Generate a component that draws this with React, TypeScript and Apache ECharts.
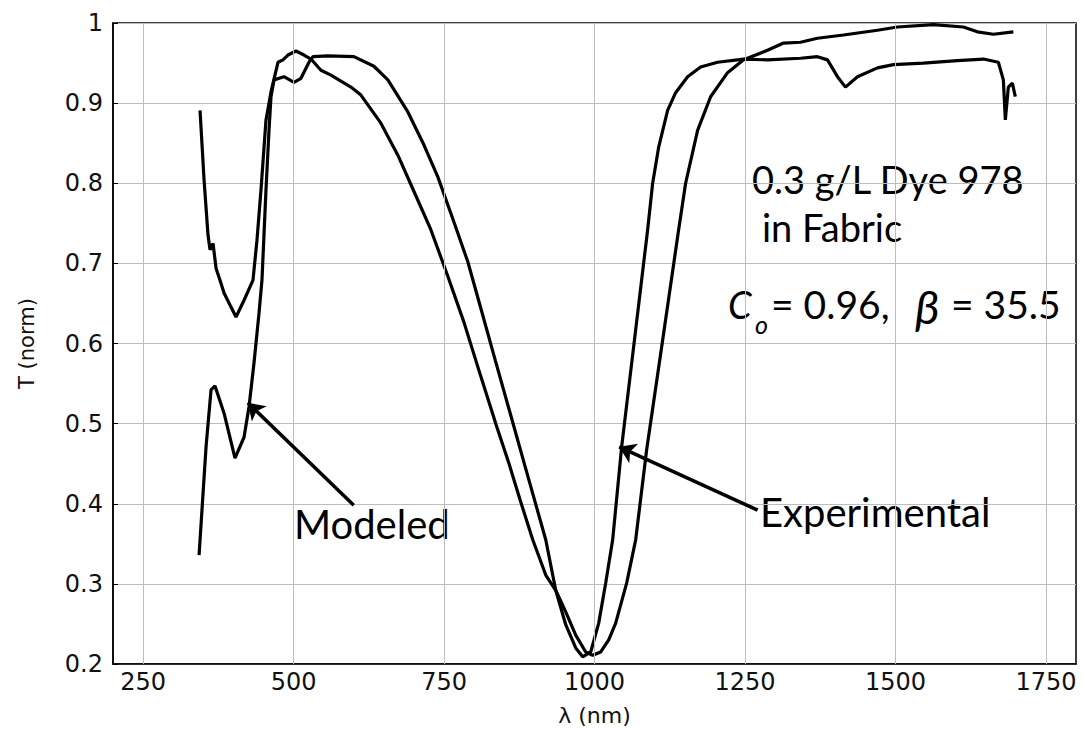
import React, { useEffect, useRef } from "react";
import * as echarts from "echarts";

// Curve 1 (modeled)
const modeledX = [343, 354.6, 362.9, 369.5, 384.5, 402.7, 417.7, 426, 434.3, 442.6, 447.5, 454.2, 459.2, 462.5, 467.5, 484.1, 500.7, 512.3, 525.6, 532.2, 557.1, 600.3, 633.5, 656.7, 689.9, 716.5, 739.7, 766.3, 789.5, 811.1, 835.2, 858.4, 886.4, 919, 935.6, 952.2, 968.8, 980.4, 993.7, 1007, 1018.6, 1030.2, 1045.1, 1068.4, 1088.3, 1096.6, 1106.6, 1121.5, 1134.8, 1154.7, 1176.3, 1204.5, 1247.7, 1287.5, 1342.3, 1370.5, 1387.1, 1403.7, 1417, 1436.9, 1470.1, 1496.7, 1546.5, 1602.9, 1646.1, 1671, 1679.3, 1682.6, 1687.6, 1694.2, 1699.2];
const modeledY = [0.336, 0.471, 0.542, 0.547, 0.513, 0.457, 0.483, 0.521, 0.576, 0.638, 0.679, 0.792, 0.866, 0.908, 0.929, 0.933, 0.926, 0.931, 0.951, 0.958, 0.959, 0.958, 0.946, 0.929, 0.889, 0.848, 0.808, 0.752, 0.702, 0.644, 0.579, 0.517, 0.442, 0.355, 0.292, 0.249, 0.22, 0.209, 0.215, 0.251, 0.301, 0.355, 0.471, 0.617, 0.742, 0.8, 0.845, 0.891, 0.913, 0.933, 0.945, 0.951, 0.955, 0.954, 0.956, 0.958, 0.954, 0.933, 0.92, 0.933, 0.944, 0.948, 0.95, 0.953, 0.955, 0.951, 0.929, 0.879, 0.92, 0.925, 0.908];

// Curve 2 (experimental)
const experimentalX = [344.6, 351.3, 357.9, 361.2, 366.2, 371.2, 377.8, 384.5, 394.4, 404.4, 417.7, 432.6, 439.2, 445.9, 454.2, 462.5, 474.1, 482.4, 490.7, 504, 517.3, 528.9, 545.5, 562.1, 595.3, 611.9, 645.1, 673.3, 699.9, 728.1, 756.3, 782.9, 811.1, 836.8, 857.6, 876.3, 897.4, 919, 935.6, 952.2, 968.8, 985.4, 997, 1010.3, 1023.6, 1035.2, 1053.4, 1068.4, 1086.6, 1113.2, 1139.8, 1151.4, 1171.3, 1192.9, 1221.1, 1247.7, 1287.5, 1314.1, 1342.3, 1370.5, 1413.7, 1470.1, 1503.3, 1563.1, 1612.9, 1636.1, 1662.7, 1695.9];
const experimentalY = [0.891, 0.804, 0.735, 0.717, 0.725, 0.694, 0.679, 0.663, 0.648, 0.633, 0.654, 0.679, 0.729, 0.792, 0.879, 0.914, 0.951, 0.954, 0.96, 0.965, 0.96, 0.955, 0.941, 0.935, 0.92, 0.91, 0.875, 0.835, 0.79, 0.742, 0.684, 0.627, 0.559, 0.498, 0.451, 0.405, 0.355, 0.311, 0.292, 0.265, 0.236, 0.215, 0.211, 0.215, 0.23, 0.251, 0.301, 0.355, 0.467, 0.604, 0.742, 0.8, 0.866, 0.908, 0.938, 0.954, 0.966, 0.975, 0.976, 0.981, 0.985, 0.991, 0.995, 0.998, 0.995, 0.989, 0.986, 0.989];

const xTicks = [250, 500, 750, 1000, 1250, 1500, 1750];
const yTicks = [0.2, 0.3, 0.4, 0.5, 0.6, 0.7, 0.8, 0.9, 1];

// arrow annotations: [tailX, tailY, tipX, tipY]
const modeledArrow = [600, 0.398, 424, 0.526];
const experimentalArrow = [1271, 0.392, 1041, 0.471];

export default function App() {
  const ref = useRef<HTMLDivElement>(null);
  useEffect(() => {
    const chart = echarts.init(ref.current!, undefined, { renderer: "svg" });
    const zip = (xs: number[], ys: number[]) => xs.map((x, i) => [x, ys[i]]);
    const ann = "Lato";
    const arrowLine = (a: number[]) => [{ coord: [a[0], a[1]] }, { coord: [a[2], a[3]] }];
    chart.setOption({
      animation: false,
      backgroundColor: "#fff",
      grid: { left: 113, top: 23, right: 7, bottom: 68, show: true, borderColor: "#000", borderWidth: 1.5 },
      xAxis: {
        type: "value",
        min: 200,
        max: 1800,
        interval: 50,
        name: "λ (nm)",
        nameLocation: "middle",
        nameGap: 40,
        nameTextStyle: { fontFamily: "DejaVu Sans", fontSize: 22, color: "#111" },
        axisLine: { lineStyle: { color: "#000", width: 1.5 } },
        axisTick: { show: false },
        splitLine: { show: false },
        axisLabel: {
          fontFamily: "DejaVu Sans",
          fontSize: 24,
          color: "#111",
          margin: 6,
          formatter: (v: number) => (xTicks.includes(v) ? String(v) : ""),
        },
      },
      yAxis: {
        type: "value",
        min: 0.2,
        max: 1,
        interval: 0.1,
        name: "T (norm)",
        nameLocation: "middle",
        nameGap: 76,
        nameTextStyle: { fontFamily: "DejaVu Sans", fontSize: 21, color: "#111" },
        axisLine: { lineStyle: { color: "#000", width: 1.5 } },
        axisTick: { show: true, inside: true, length: 5, lineStyle: { color: "#000" } },
        splitLine: { show: true, lineStyle: { color: "#bdbdbd", width: 1 } },
        axisLabel: {
          fontFamily: "DejaVu Sans",
          fontSize: 24,
          color: "#111",
          margin: 10,
          formatter: (v: number) => {
            const r = Math.round(v * 10) / 10;
            return yTicks.includes(r) ? String(r) : "";
          },
        },
      },
      series: [
        {
          name: "grid",
          type: "line",
          data: [],
          silent: true,
          z: 1,
          markLine: {
            silent: true,
            symbol: ["none", "none"],
            label: { show: false },
            lineStyle: { color: "#bdbdbd", width: 1, type: "solid" },
            data: xTicks.map((x) => ({ xAxis: x })),
          },
        },
        {
          name: "Modeled",
          type: "line",
          data: zip(modeledX, modeledY),
          showSymbol: false,
          z: 3,
          lineStyle: { color: "#000", width: 3.2 },
          markLine: {
            silent: true,
            symbol: ["none", "arrow"],
            symbolSize: 16,
            label: { show: false },
            lineStyle: { color: "#000", width: 3.5, type: "solid" },
            data: [arrowLine(modeledArrow)],
          },
        },
        {
          name: "Experimental",
          type: "line",
          data: zip(experimentalX, experimentalY),
          showSymbol: false,
          z: 3,
          lineStyle: { color: "#000", width: 3.2 },
          markLine: {
            silent: true,
            symbol: ["none", "arrow"],
            symbolSize: 16,
            label: { show: false },
            lineStyle: { color: "#000", width: 3.5, type: "solid" },
            data: [arrowLine(experimentalArrow)],
          },
        },
      ],
      graphic: [
        { type: "text", x: 752, y: 179, style: { text: "0.3 g/L Dye 978", fontFamily: ann, fontSize: 38, fill: "#000", verticalAlign: "middle" } },
        { type: "text", x: 762, y: 227, style: { text: "in Fabric", fontFamily: ann, fontSize: 38, fill: "#000", verticalAlign: "middle" } },
        { type: "text", x: 728, y: 304, style: { text: "C", fontFamily: ann, fontStyle: "italic", fontSize: 38, fill: "#000", verticalAlign: "middle" } },
        { type: "text", x: 755, y: 324, style: { text: "o", fontFamily: ann, fontStyle: "italic", fontSize: 25, fill: "#000", verticalAlign: "middle" } },
        { type: "text", x: 771, y: 304, style: { text: "= 0.96,", fontFamily: ann, fontSize: 39, fill: "#000", verticalAlign: "middle" } },
        { type: "text", x: 915, y: 306, style: { text: "β", fontFamily: ann, fontStyle: "italic", fontSize: 47, fill: "#000", verticalAlign: "middle" } },
        { type: "text", x: 951, y: 304, style: { text: "= 35.5", fontFamily: ann, fontSize: 39, fill: "#000", verticalAlign: "middle" } },
        { type: "text", x: 294, y: 524, style: { text: "Modeled", fontFamily: ann, fontSize: 40, fill: "#000", verticalAlign: "middle" } },
        { type: "text", x: 760, y: 512, style: { text: "Experimental", fontFamily: ann, fontSize: 40, fill: "#000", verticalAlign: "middle" } },
      ],
    });
    return () => chart.dispose();
  }, []);
  return <div ref={ref} style={{ position: "fixed", left: 0, top: 0, width: 1083, height: 732 }} />;
}
